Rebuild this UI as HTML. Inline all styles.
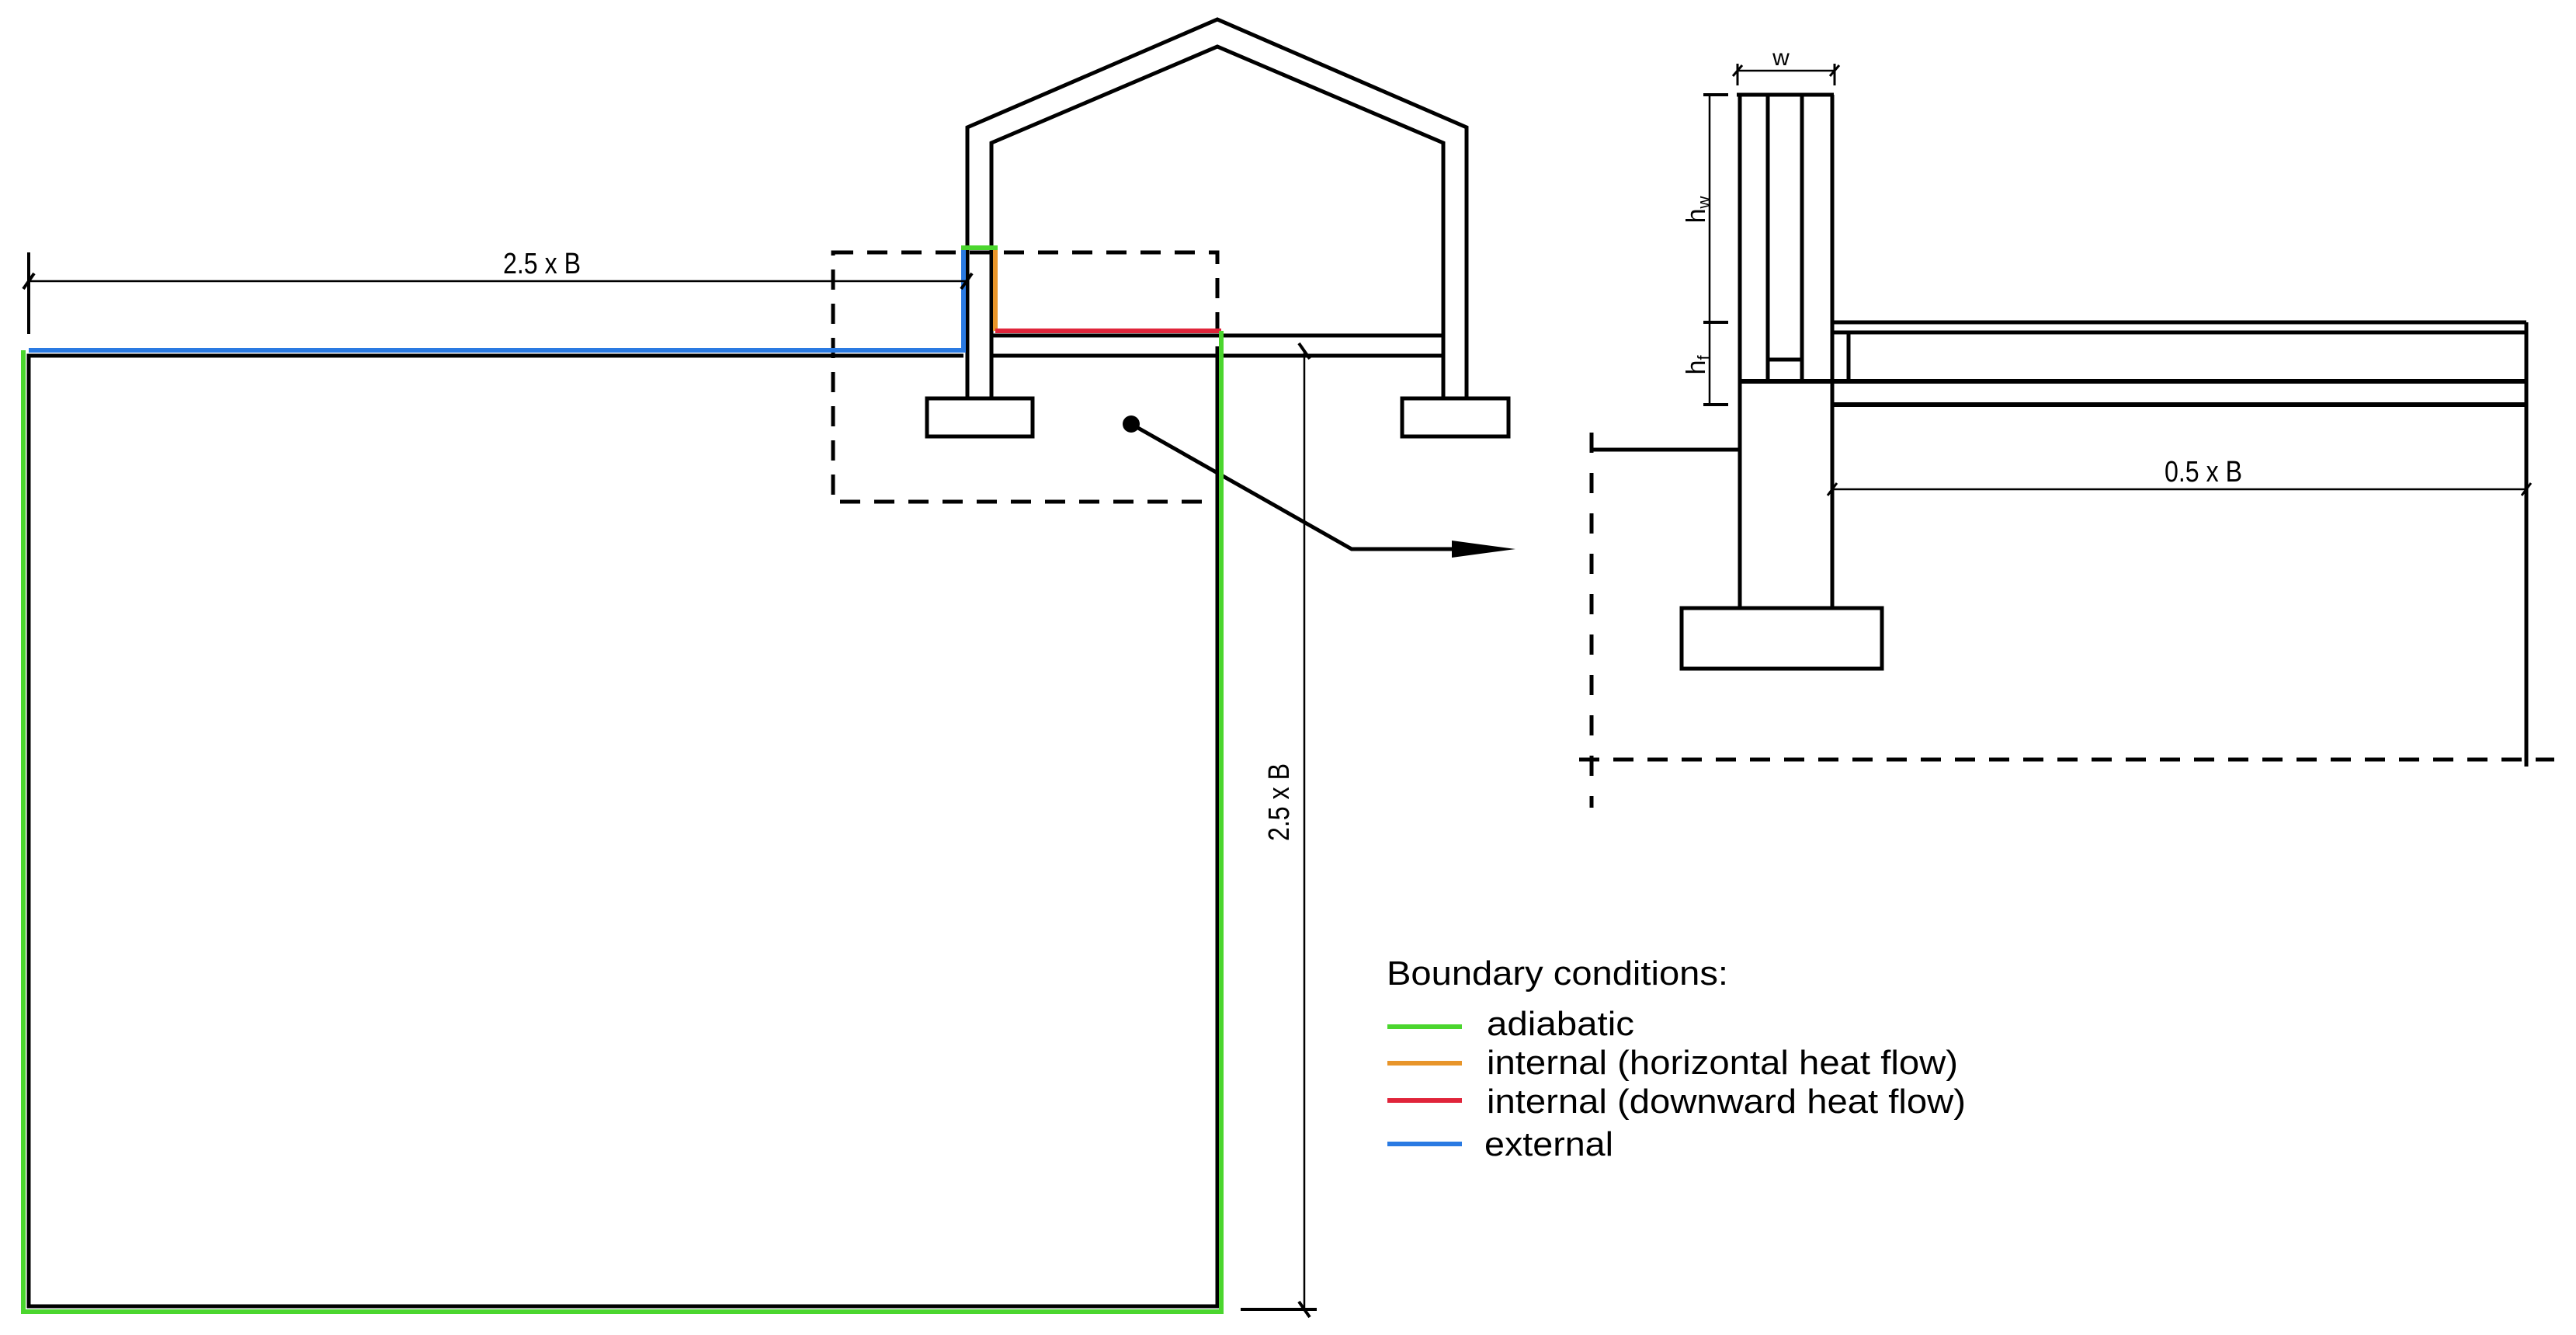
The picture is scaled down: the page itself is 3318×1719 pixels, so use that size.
<!DOCTYPE html>
<html><head><meta charset="utf-8"><style>html,body{margin:0;padding:0;background:#fff}svg{display:block}</style></head>
<body>
<svg width="3318" height="1719" viewBox="0 0 3318 1719" xmlns="http://www.w3.org/2000/svg" font-family="Liberation Sans, sans-serif">
<g fill="none" stroke="#000" stroke-width="5" stroke-linejoin="miter">
  <polyline points="1246,513 1246,164 1568,25 1889,164 1889,513"/>
  <polyline points="1277,513 1277,184 1568,60 1859,184 1859,513"/>
  <rect x="1194" y="513" width="136" height="49"/>
  <rect x="1806" y="513" width="137" height="49"/>
  <line x1="1277" y1="432" x2="1859" y2="432"/>
  <line x1="1277" y1="458" x2="1859" y2="458"/>
  <polyline points="1241,458 37,458 37,1682 1568,1682 1568,446"/>
  <rect x="1073" y="325" width="495" height="321" stroke-dasharray="26,18"/>
  <polyline points="1457,546 1741,707 1880,707"/>
</g>
<circle cx="1457" cy="546" r="11" fill="#000"/>
<polygon points="1870,696 1952,707 1870,718" fill="#000"/>
<g fill="none" stroke-width="6">
  <polyline stroke="#2a7ae2" points="37,451 1241,451 1241,322"/>
  <line stroke="#4bd62e" x1="1238" y1="319" x2="1285" y2="319"/>
  <line stroke="#e8952a" x1="1282" y1="322" x2="1282" y2="426"/>
  <line stroke="#e0243a" x1="1282" y1="426" x2="1573" y2="426"/>
  <polyline stroke="#4bd62e" points="1573,426 1573,1689 30,1689 30,451"/>
</g>
<g stroke="#000" stroke-width="2.5" fill="none">
  <line x1="37" y1="362" x2="1246" y2="362"/>
  <line x1="37" y1="325" x2="37" y2="430" stroke-width="4"/>
  <line x1="30" y1="372" x2="44" y2="352" stroke-width="4"/>
  <line x1="1238" y1="372" x2="1252" y2="352" stroke-width="4"/>
  <line x1="1680" y1="452" x2="1680" y2="1688"/>
  <line x1="1673" y1="442" x2="1687" y2="462" stroke-width="4"/>
  <line x1="1673" y1="1676" x2="1687" y2="1696" stroke-width="4"/>
  <line x1="1598" y1="1686" x2="1696" y2="1686" stroke-width="4"/>
</g>
<text x="698" y="352" font-size="38" text-anchor="middle" textLength="100" lengthAdjust="spacingAndGlyphs">2.5 x B</text>
<text transform="translate(1660,1033) rotate(-90)" font-size="38" text-anchor="middle" textLength="100" lengthAdjust="spacingAndGlyphs">2.5 x B</text>
<g fill="none" stroke="#000" stroke-width="5">
  <line x1="2237" y1="122" x2="2362" y2="122"/>
  <line x1="2241" y1="122" x2="2241" y2="783"/>
  <line x1="2360" y1="122" x2="2360" y2="783"/>
  <line x1="2277" y1="122" x2="2277" y2="491"/>
  <line x1="2321" y1="122" x2="2321" y2="491"/>
  <line x1="2277" y1="463" x2="2321" y2="463"/>
  <line x1="2360" y1="415" x2="3254" y2="415"/>
  <line x1="2360" y1="428" x2="3254" y2="428"/>
  <line x1="2381" y1="428" x2="2381" y2="491"/>
  <line x1="2241" y1="491" x2="3254" y2="491" stroke-width="6"/>
  <line x1="2360" y1="521" x2="3254" y2="521" stroke-width="6"/>
  <line x1="3254" y1="415" x2="3254" y2="987"/>
  <rect x="2166" y="783" width="258" height="78"/>
  <line x1="2050" y1="579" x2="2241" y2="579"/>
  <line x1="2050" y1="557" x2="2050" y2="1040" stroke-dasharray="26,26"/>
  <line x1="2034" y1="978" x2="3290" y2="978" stroke-dasharray="26,18"/>
</g>
<g stroke="#000" stroke-width="2.5" fill="none">
  <line x1="2238" y1="91" x2="2363" y2="91"/>
  <line x1="2238" y1="82" x2="2238" y2="110" stroke-width="3"/>
  <line x1="2363" y1="82" x2="2363" y2="110" stroke-width="3"/>
  <line x1="2232" y1="98" x2="2244" y2="84" stroke-width="3"/>
  <line x1="2357" y1="98" x2="2369" y2="84" stroke-width="3"/>
  <line x1="2202" y1="122" x2="2202" y2="521"/>
  <line x1="2194" y1="122" x2="2226" y2="122" stroke-width="4"/>
  <line x1="2194" y1="415" x2="2226" y2="415" stroke-width="4"/>
  <line x1="2194" y1="521" x2="2226" y2="521" stroke-width="4"/>
  <line x1="2360" y1="630" x2="3254" y2="630"/>
  <line x1="2354" y1="638" x2="2366" y2="622" stroke-width="3"/>
  <line x1="3248" y1="638" x2="3260" y2="622" stroke-width="3"/>
</g>
<text x="2294" y="84" font-size="30" text-anchor="middle">w</text>
<text transform="translate(2196,270) rotate(-90)" font-size="34" text-anchor="middle">h<tspan font-size="22" dy="6">w</tspan></text>
<text transform="translate(2196,470) rotate(-90)" font-size="34" text-anchor="middle">h<tspan font-size="22" dy="6">f</tspan></text>
<text x="2838" y="620" font-size="38" text-anchor="middle" textLength="100" lengthAdjust="spacingAndGlyphs">0.5 x B</text>
<text x="1786" y="1268" font-size="44" textLength="440" lengthAdjust="spacingAndGlyphs">Boundary conditions:</text>
<g stroke-width="6">
  <line x1="1787" y1="1322" x2="1883" y2="1322" stroke="#4bd62e"/>
  <line x1="1787" y1="1369" x2="1883" y2="1369" stroke="#e8952a"/>
  <line x1="1787" y1="1417" x2="1883" y2="1417" stroke="#e0243a"/>
  <line x1="1787" y1="1473" x2="1883" y2="1473" stroke="#2a7ae2"/>
</g>
<g font-size="44">
  <text x="1915" y="1333" textLength="190" lengthAdjust="spacingAndGlyphs">adiabatic</text>
  <text x="1915" y="1383" textLength="607" lengthAdjust="spacingAndGlyphs">internal (horizontal heat flow)</text>
  <text x="1915" y="1433" textLength="617" lengthAdjust="spacingAndGlyphs">internal (downward heat flow)</text>
  <text x="1912" y="1488" textLength="166" lengthAdjust="spacingAndGlyphs">external</text>
</g>
</svg>
</body></html>
